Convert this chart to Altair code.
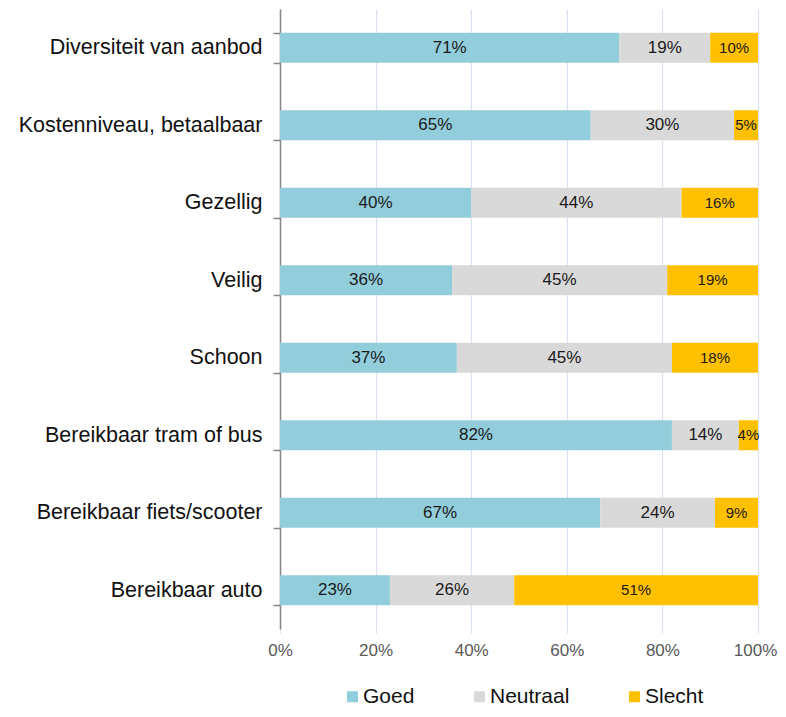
import altair as alt
import pandas as pd

categories = [
    "Diversiteit van aanbod",
    "Kostenniveau, betaalbaar",
    "Gezellig",
    "Veilig",
    "Schoon",
    "Bereikbaar tram of bus",
    "Bereikbaar fiets/scooter",
    "Bereikbaar auto",
]
goed = [71, 65, 40, 36, 37, 82, 67, 23]
neutraal = [19, 30, 44, 45, 45, 14, 24, 26]
slecht = [10, 5, 16, 19, 18, 4, 9, 51]
series = ["Goed", "Neutraal", "Slecht"]
colors = ["#92CDDC", "#D9D9D9", "#FFC000"]
x_ticks = [0, 0.2, 0.4, 0.6, 0.8, 1.0]

rows = []
for i, c in enumerate(categories):
    for j, (s, vals) in enumerate(zip(series, [goed, neutraal, slecht])):
        rows.append({"cat": c, "serie": s, "order": j, "value": vals[i] / 100})
df = pd.DataFrame(rows)

FONT = "Liberation Sans"

base = alt.Chart(df).transform_stack(
    stack="value", groupby=["cat"], as_=["x0", "x1"], sort=[alt.SortField("order")]
).transform_calculate(mid="(datum.x0 + datum.x1) / 2")

yscale = alt.Scale(paddingInner=0.613, paddingOuter=0.3065)
yaxis = alt.Axis(
    title=None,
    domainColor="#868686",
    domainWidth=1.5,
    tickColor="#868686",
    tickWidth=1.5,
    tickSize=7,
    tickBand="extent",
    labelFont=FONT,
    labelFontSize=21.5,
    labelColor="#111111",
    labelPadding=11,
    labelLimit=400,
    grid=False,
)
xscale = alt.Scale(domain=[0, 1], nice=False)
xaxis = alt.Axis(
    title=None,
    values=x_ticks,
    format=".0%",
    domain=False,
    grid=True,
    gridColor="#D9E2EF",
    gridWidth=1.2,
    tickColor="#D9E2EF",
    tickSize=4,
    labelFont=FONT,
    labelFontSize=17,
    labelColor="#595959",
    labelPadding=9,
    labelOffset={"condition": {"test": "datum.value == 1", "value": -3}, "value": 0},
    labelFlush=False,
    labelBound=False,
    labelOverlap=False,
)

bars = base.mark_bar().encode(
    x=alt.X("x0:Q", scale=xscale, axis=xaxis),
    x2="x1:Q",
    y=alt.Y("cat:N", sort=categories, scale=yscale, axis=yaxis),
    color=alt.Color(
        "serie:N",
        scale=alt.Scale(domain=series, range=colors),
        legend=alt.Legend(
            title=None,
            orient="none",
            legendX=62,
            legendY=677,
            direction="horizontal",
            symbolType="square",
            symbolSize=121,
            symbolStrokeWidth=0,
            labelFont=FONT,
            labelFontSize=21,
            labelColor="#111111",
            labelOffset=0,
            columnPadding=54,
            padding=0,
        ),
    ),
)

text_main = base.transform_filter(alt.datum.serie != "Slecht").mark_text(
    font=FONT, fontSize=17, color="#1a1a1a", baseline="middle", align="center"
).encode(
    x=alt.X("mid:Q", scale=xscale),
    y=alt.Y("cat:N", sort=categories, scale=yscale),
    text=alt.Text("value:Q", format=".0%"),
)

text_slecht = base.transform_filter(alt.datum.serie == "Slecht").mark_text(
    font=FONT, fontSize=15, color="#1a1a1a", baseline="middle", align="center"
).encode(
    x=alt.X("mid:Q", scale=xscale),
    y=alt.Y("cat:N", sort=categories, scale=yscale),
    text=alt.Text("value:Q", format=".0%"),
)

chart = (
    alt.layer(bars, text_main, text_slecht)
    .properties(
        width=478,
        height=620,
        autosize=alt.AutoSizeParams(type="none"),
        padding={"left": 272, "top": 1, "right": 20, "bottom": 79},
    )
    .configure_view(stroke=None)
)

chart.save("out.html", embed_options={"renderer": "svg", "actions": False})
